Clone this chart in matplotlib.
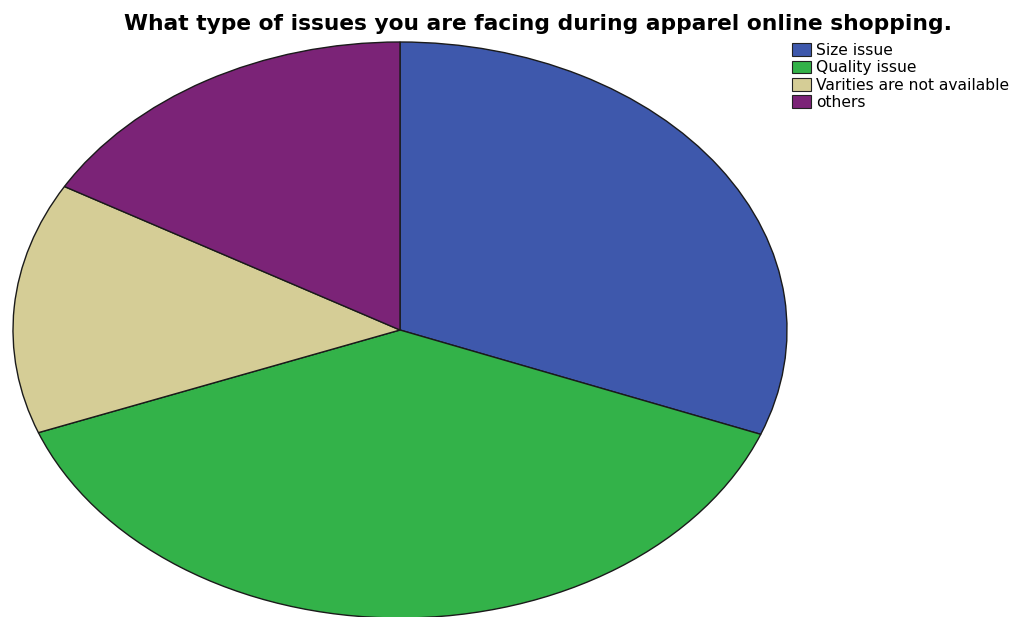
import matplotlib
matplotlib.use('Agg')
import matplotlib.pyplot as plt
from matplotlib.patches import Patch

plt.rcParams['font.family'] = ['DejaVu Sans']

categories = ["Size issue", "Quality issue", "Varities are not available", "others"]
shares = [30.9, 38.3, 14.1, 16.7]
colors = ["#3e58ac", "#33b249", "#d5cd96", "#7b2377"]

W, H = 1015, 617
fig = plt.figure(figsize=(W / 100, H / 100), dpi=100)

# ellipse bounding box in pixels: left, right, top, bottom
left, right, top, bottom = 13, 787, 42, 618
ax = fig.add_axes([left / W, (H - bottom) / H, (right - left) / W, (bottom - top) / H])
ax.pie(shares, colors=colors, startangle=90, counterclock=False, radius=1,
       wedgeprops=dict(edgecolor="#1a1a1a", linewidth=1.0))
ax.set_aspect('auto')
ax.set_xlim(-1, 1)
ax.set_ylim(-1, 1)
ax.axis('off')

fig.text(538 / W, 1 - 30 / H, "What type of issues you are facing during apparel online shopping.",
         ha="center", va="baseline", fontsize=15.7, fontweight="bold")

handles = [Patch(facecolor=c, edgecolor="#222222", linewidth=0.8) for c in colors]
fig.legend(handles, categories, loc="upper left", bbox_to_anchor=(792 / W, 1 - 43 / H),
           frameon=False, fontsize=11.2, handlelength=1.25, handleheight=0.9,
           handletextpad=0.3, labelspacing=0.15, borderpad=0, borderaxespad=0)

fig.savefig("out.png", dpi=100)
